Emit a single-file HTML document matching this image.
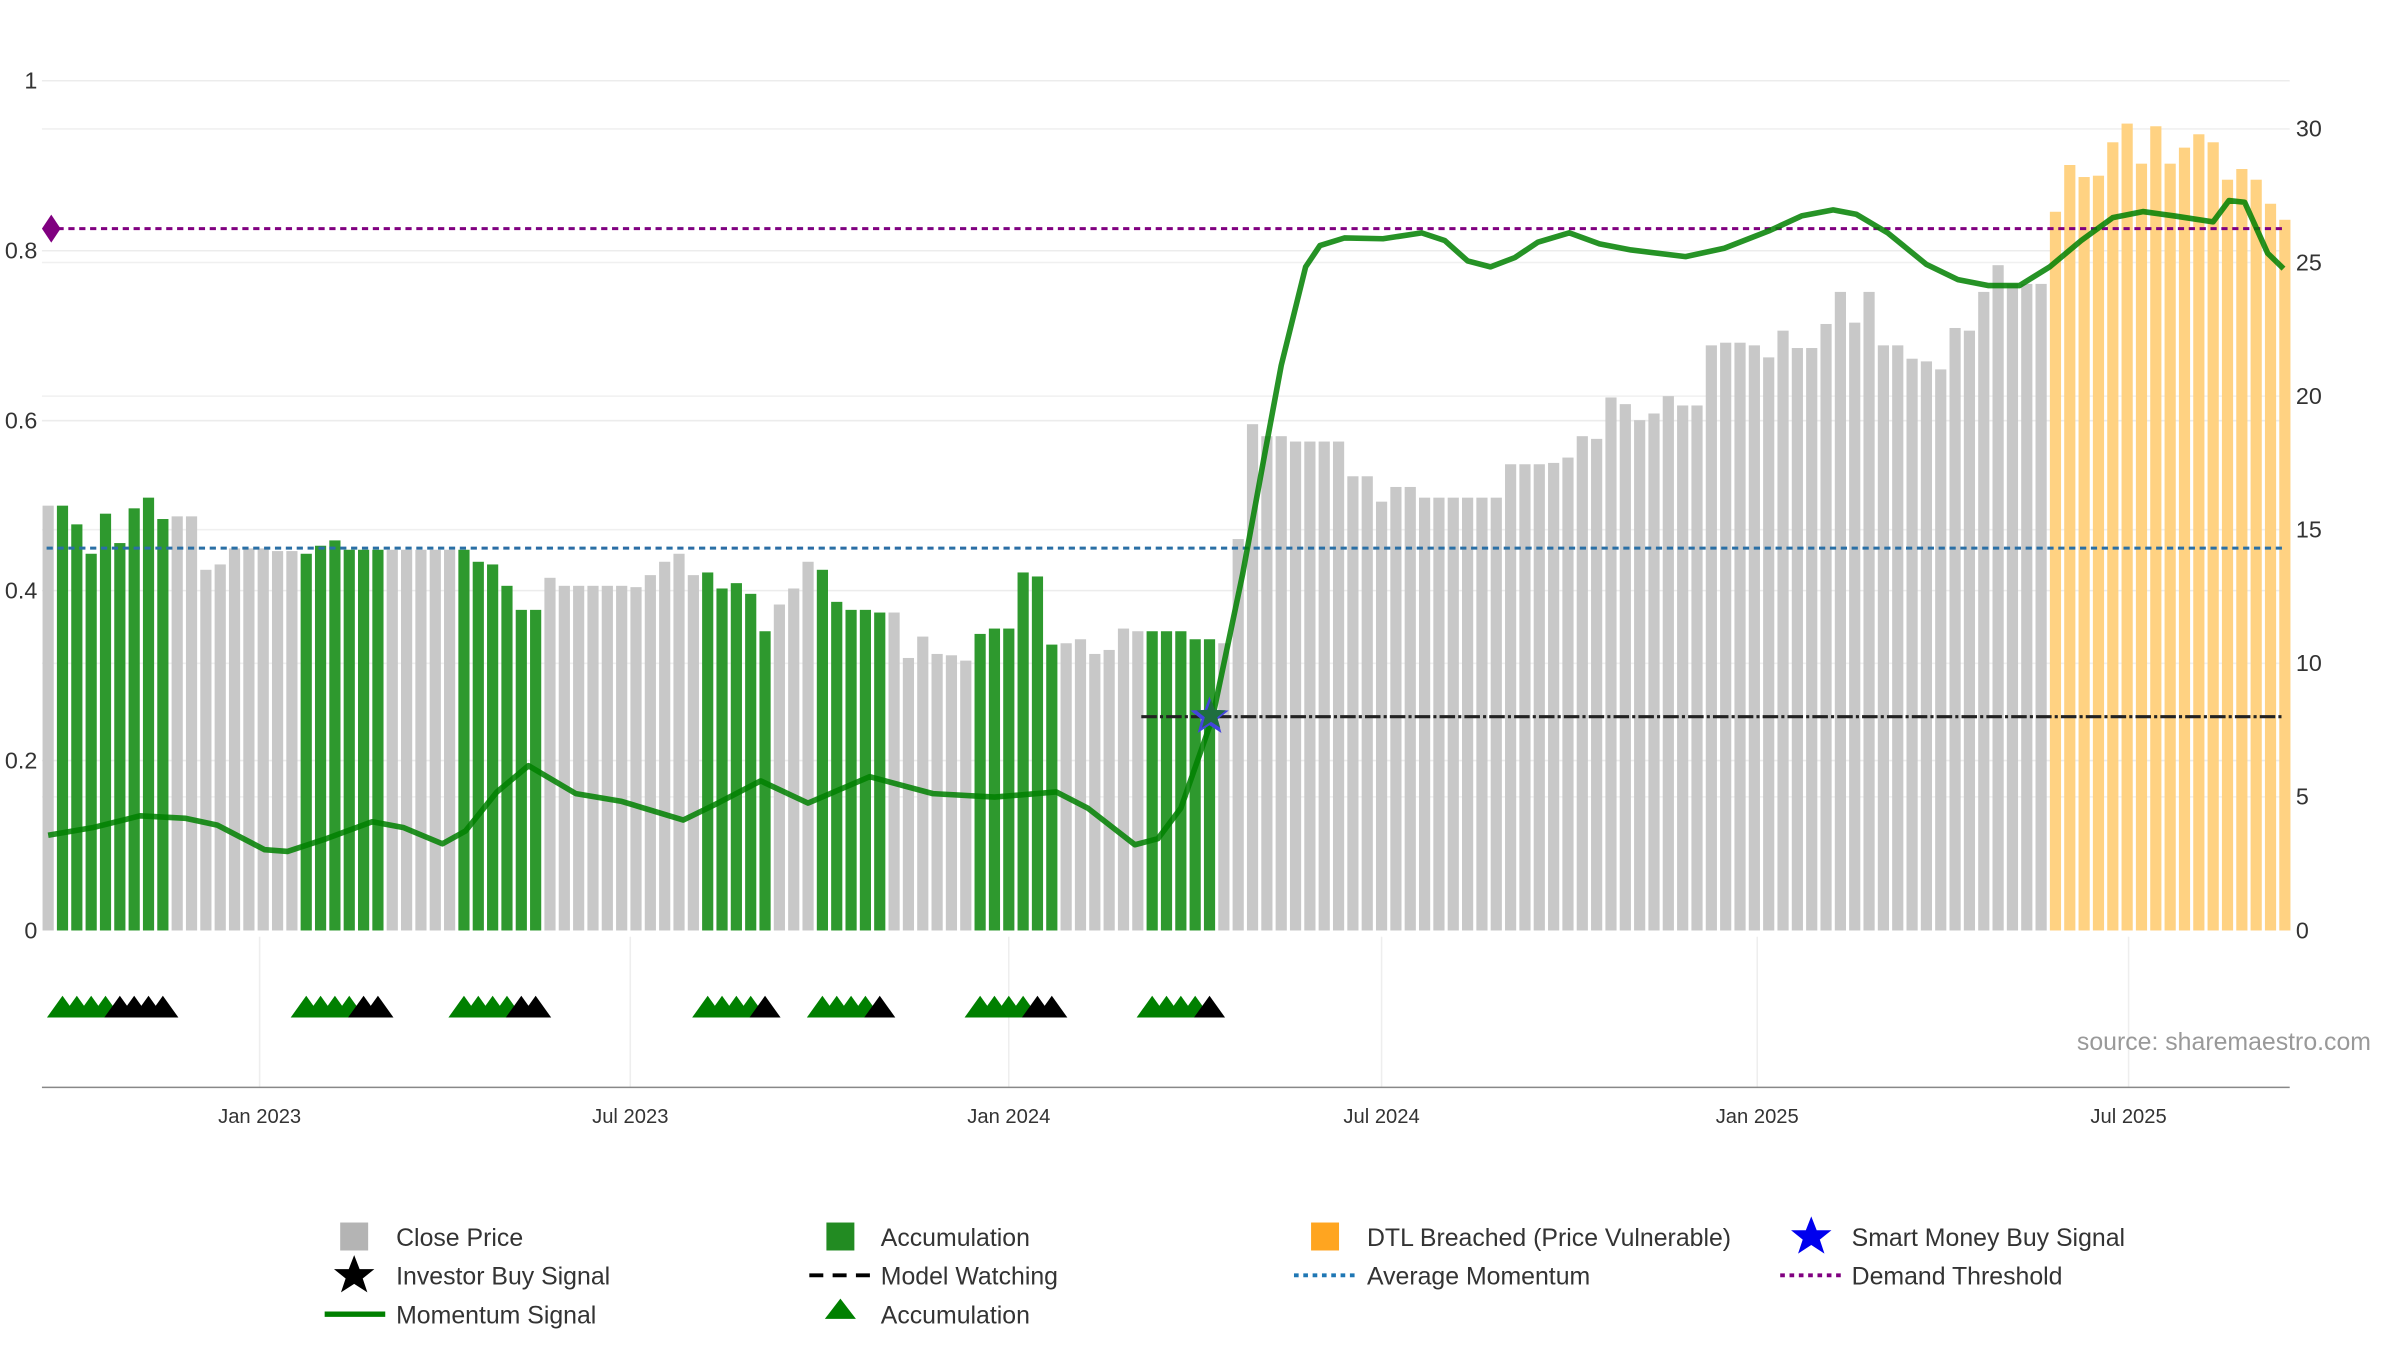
<!DOCTYPE html>
<html><head><meta charset="utf-8">
<style>
html,body{margin:0;padding:0;background:#fff;}
svg{display:block;font-family:"Liberation Sans","DejaVu Sans",sans-serif;}
</style></head>
<body>
<svg id="chart" width="2400" height="1350" viewBox="0 0 1545 869.06" xmlns="http://www.w3.org/2000/svg">
<g id="grid"></g>
<g id="bars"></g>
<g id="lines"></g>
<g id="momentum"></g>
<g id="signals"></g>
<g id="axes"></g>
<text x="1337" y="676" font-size="16" fill="#999">source: sharemaestro.com</text>
<g id="legend" font-size="16" fill="#333">
  <g><rect x="219" y="787" width="18" height="18" fill="#b4b4b4"/><text x="255" y="802">Close Price</text></g>
  <g><rect x="532" y="787" width="18" height="18" fill="#228b22"/><text x="567" y="802">Accumulation</text></g>
  <g><rect x="844" y="787" width="18" height="18" fill="#ffa520"/><text x="880" y="802">DTL Breached (Price Vulnerable)</text></g>
  <g><polygon points="1166,783 1169.5,792 1179,792 1171.5,798 1174.5,807 1166,801.5 1157.5,807 1160.5,798 1153,792 1162.5,792" fill="#0000ee"/><text x="1192" y="802">Smart Money Buy Signal</text></g>
  <g><polygon points="228,808 231.5,817 241,817 233.5,823 236.5,832 228,826.5 219.5,832 222.5,823 215,817 224.5,817" fill="#000"/><text x="255" y="827">Investor Buy Signal</text></g>
  <g><line x1="521" y1="821" x2="561" y2="821" stroke="#000" stroke-width="2.5" stroke-dasharray="9,6"/><text x="567" y="827">Model Watching</text></g>
  <g><line x1="833" y1="821" x2="873" y2="821" stroke="#1f77b4" stroke-width="2.5" stroke-dasharray="3,3"/><text x="880" y="827">Average Momentum</text></g>
  <g><line x1="1146" y1="821" x2="1186" y2="821" stroke="#800080" stroke-width="2.5" stroke-dasharray="3,3"/><text x="1192" y="827">Demand Threshold</text></g>
  <g><line x1="209" y1="846" x2="248" y2="846" stroke="#008000" stroke-width="3.5"/><text x="255" y="852">Momentum Signal</text></g>
  <g><polygon points="541,836 551,849 531,849" fill="#008000"/><text x="567" y="852">Accumulation</text></g>
</g>
</svg>
<script>
const prices = [15.9,15.9,15.2,14.1,15.6,14.5,15.8,16.2,15.4,15.5,15.5,13.5,13.7,14.3,14.3,14.3,14.2,14.2,14.1,14.4,14.6,14.25,14.25,14.25,14.25,14.25,14.25,14.25,14.25,14.25,13.8,13.7,12.9,12.0,12.0,13.2,12.9,12.9,12.9,12.9,12.9,12.85,13.3,13.8,14.1,13.3,13.4,12.8,13.0,12.6,11.2,12.2,12.8,13.8,13.5,12.3,12.0,12.0,11.9,11.9,10.2,11.0,10.35,10.3,10.1,11.1,11.3,11.3,13.4,13.25,10.7,10.75,10.9,10.35,10.5,11.3,11.2,11.2,11.2,11.2,10.9,10.9,10.75,14.65,18.95,18.5,18.5,18.3,18.3,18.3,18.3,17.0,17.0,16.05,16.6,16.6,16.2,16.2,16.2,16.2,16.2,16.2,17.45,17.45,17.45,17.5,17.7,18.5,18.4,19.95,19.7,19.1,19.35,20.0,19.65,19.65,21.9,22.0,22.0,21.9,21.45,22.45,21.8,21.8,22.7,23.9,22.75,23.9,21.9,21.9,21.4,21.3,21.0,22.55,22.45,23.9,24.9,24.2,24.2,24.2,26.9,28.65,28.2,28.25,29.5,30.2,28.7,30.1,28.7,29.3,29.8,29.5,28.1,28.5,28.1,27.2,26.6];
const barTypeRuns = ["g",1,"a",8,"g",9,"a",6,"g",5,"a",6,"g",11,"a",5,"g",3,"a",5,"g",6,"a",6,"g",6,"a",5,"g",58,"d",17];
const momIdx = [0,3.1,6.4,9.6,11.8,15.1,16.7,19.4,22.6,24.8,27.5,29.1,31.3,33.5,36.8,40,44.3,46.5,49.7,53.0,57.3,61.7,66,70.3,72.5,75.8,77.4,79,81.2,83.3,84.9,86.0,87.7,88.7,90.4,93.1,95.8,97.4,99.0,100.6,102.3,103.9,106.1,108.2,110.4,114.2,116.9,120.1,122.3,124.5,126.1,128.3,131,133.2,135.3,137.5,139.6,141.8,144,146.1,148.3,151.0,152.1,153.2,154.8,155.9];
const momVal = [0.112,0.121,0.135,0.132,0.124,0.095,0.093,0.108,0.128,0.121,0.102,0.117,0.163,0.194,0.161,0.152,0.130,0.148,0.176,0.150,0.181,0.161,0.157,0.163,0.144,0.101,0.108,0.144,0.250,0.419,0.565,0.665,0.781,0.806,0.815,0.814,0.821,0.812,0.788,0.781,0.792,0.810,0.821,0.808,0.801,0.793,0.803,0.824,0.841,0.848,0.843,0.821,0.784,0.766,0.759,0.759,0.781,0.812,0.839,0.846,0.841,0.834,0.859,0.857,0.797,0.779];
const accumIdx = [1,2,3,4,18,19,20,21,29,30,31,32,46,47,48,49,54,55,56,57,65,66,67,68,77,78,79,80];
const investorIdx = [5,6,7,8,22,23,33,34,50,58,69,70,81];
const smartMoneyIdx = [81];
const demandThreshold = 0.826;
const avgMomentum = 0.45;
const modelWatchingPrice = 8;
const modelWatchingStart = 77;
const leftTicks = [0,0.2,0.4,0.6,0.8,1];
const leftTickLabels = ["0","0.2","0.4","0.6","0.8","1"];
const rightTicks = [0,5,10,15,20,25,30];
const xTickIdx = [14.75,40.6,67.0,93.0,119.2,145.1];
const xTickLabels = ["Jan 2023","Jul 2023","Jan 2024","Jul 2024","Jan 2025","Jul 2025"];

let barTypes = "";
for (let k = 0; k < barTypeRuns.length; k += 2) barTypes += barTypeRuns[k].repeat(barTypeRuns[k+1]);

const NS="http://www.w3.org/2000/svg";
const X0=31, DX=9.23, BASE=599;
const xS = i => X0 + i*DX;
const yL = v => BASE - v*547;
const yR = v => BASE - v*17.2;
function mk(tag, attrs, parent){const e=document.createElementNS(NS,tag);for(const k in attrs)e.setAttribute(k,attrs[k]);parent.appendChild(e);return e;}
const grid=document.getElementById('grid'), bars=document.getElementById('bars'), lines=document.getElementById('lines'), mom=document.getElementById('momentum'), sig=document.getElementById('signals'), axes=document.getElementById('axes');

leftTicks.forEach((t,i)=>{
  if(t>0){const g=mk('line',{x1:27,x2:1474,y1:yL(t),y2:yL(t),stroke:'#ececec','stroke-width':1},grid);
  
  }
  const tx=mk('text',{x:24,y:yL(t)+5,'font-size':15,fill:'#333','text-anchor':'end'},axes);
  tx.textContent=leftTickLabels[i];
  
  
});
rightTicks.forEach(t=>{
  if(t>0){const g=mk('line',{x1:27,x2:1474,y1:yR(t),y2:yR(t),stroke:'#f0f0f0','stroke-width':1},grid);
  
  }
  const tx=mk('text',{x:1478,y:yR(t)+5,'font-size':15,fill:'#333'},axes);
  tx.textContent=String(t);
  
  
});
xTickIdx.forEach((t,i)=>{
  const g=mk('line',{x1:xS(t),x2:xS(t),y1:603,y2:700,stroke:'#eeeeee','stroke-width':1},grid);
  
  
  const tx=mk('text',{x:xS(t),y:723,'font-size':13,fill:'#333','text-anchor':'middle'},axes);
  tx.textContent=xTickLabels[i];
  
  
});
const ax=mk('line',{x1:27,x2:1474,y1:700,y2:700,stroke:'#888','stroke-width':1},axes);



const colors={g:'#c8c8c8',a:'#2e992e',d:'#ffd282'};
prices.forEach((p,i)=>{
  const t=barTypes[i]||'g';
  const r=mk('rect',{x:xS(i)-3.6,y:yR(p),width:7.2,height:BASE-yR(p),fill:colors[t]},bars);
  
  
});

let l=mk('line',{x1:30,x2:1472,y1:yL(avgMomentum),y2:yL(avgMomentum),stroke:'#2a6fa5','stroke-width':2,'stroke-dasharray':'4,3'},lines);


l=mk('line',{x1:30,x2:1472,y1:yL(demandThreshold),y2:yL(demandThreshold),stroke:'#800080','stroke-width':2,'stroke-dasharray':'4,3'},lines);


const dy=yL(demandThreshold);
l=mk('polygon',{points:`33,${dy-9} 39,${dy} 33,${dy+9} 27,${dy}`,fill:'#800080'},lines);


l=mk('line',{x1:xS(modelWatchingStart)-7,x2:1470,y1:yR(modelWatchingPrice),y2:yR(modelWatchingPrice),stroke:'#222','stroke-width':2,'stroke-dasharray':'10,2,2,2'},lines);



let d='';
momIdx.forEach((ix,k)=>{d+=(k?'L':'M')+xS(ix).toFixed(1)+','+yL(momVal[k]).toFixed(1);});
const pth=mk('path',{d:d,fill:'none',stroke:'#008000','stroke-width':3.6,'stroke-linejoin':'round','stroke-opacity':0.85},mom);



function star(cx,cy,r,fill,name){
  let pts=[];for(let k=0;k<10;k++){const a=-Math.PI/2+k*Math.PI/5;const rr=k%2?r*0.42:r;pts.push((cx+rr*Math.cos(a)).toFixed(1)+','+(cy+rr*Math.sin(a)).toFixed(1));}
  const s=mk('polygon',{points:pts.join(' '),fill:fill},sig);
  
  
}
smartMoneyIdx.forEach(i=>{star(xS(i),yR(modelWatchingPrice),13,'#4444dd','smart-money-buy-star');star(xS(i)+1,yR(modelWatchingPrice)-1,10,'#1f6f3f','investor-buy-star');});

function tri(i,fill,name){
  const cx=xS(i);
  const t=mk('polygon',{points:`${cx},641 ${cx+10},655 ${cx-10},655`,fill:fill},sig);
  
  
}
accumIdx.forEach(i=>tri(i,'#008000','accumulation-triangle'));
investorIdx.forEach(i=>tri(i,'#000000','investor-triangle'));
</script>
</body></html>
